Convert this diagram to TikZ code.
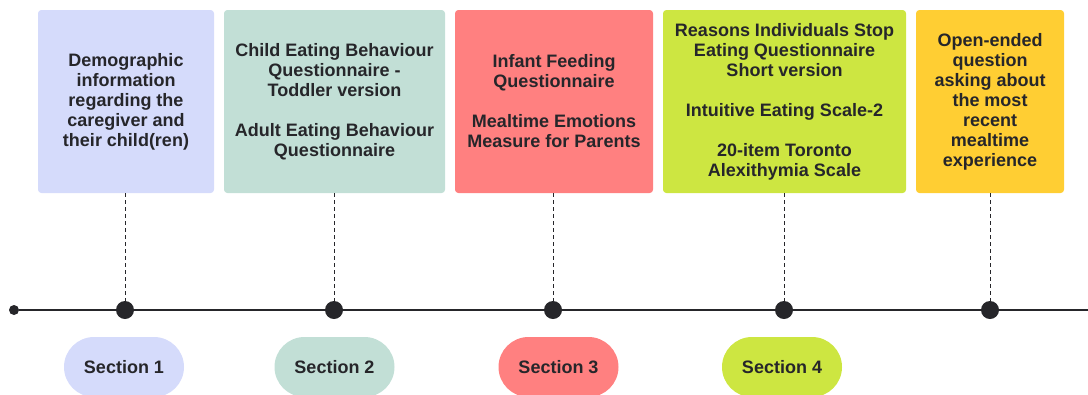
\documentclass[tikz,border=0pt]{standalone}
\usepackage{fontspec}
\setmainfont{Liberation Sans}
\usetikzlibrary{shapes.misc}

\definecolor{lavender}{RGB}{213,219,251}
\definecolor{sage}{RGB}{194,223,214}
\definecolor{salmon}{RGB}{255,128,128}
\definecolor{lime}{RGB}{205,230,65}
\definecolor{amber}{RGB}{255,206,51}
\definecolor{ink}{RGB}{38,38,42}

\begin{document}
\begin{tikzpicture}[x=0.75pt,y=0.75pt,yscale=-1,xscale=1,
    card/.style={rounded corners=2.5pt, minimum height=137.25pt, inner sep=0pt,
      align=center, text=ink, font=\fontsize{13.5}{15}\selectfont\bfseries,
      execute at begin node={\vspace*{7.5pt}}},
    pill/.style={rounded rectangle, minimum width=90pt, minimum height=45pt,
      inner sep=0pt, text=ink, font=\fontsize{13.5}{15}\selectfont\bfseries},
    dot/.style={circle, fill=ink, inner sep=0pt, minimum size=13.5pt},
    guide/.style={color=ink, line width=0.6pt, dash pattern=on 3pt off 2.25pt}]
    \useasboundingbox (0,0) rectangle (1088,394);

    %Shape: Rectangle (cards)
    \node [card, fill=lavender, minimum width=132pt] (card1) at (126,101.5)
      {Demographic\\information\\regarding the\\caregiver and\\their child(ren)};
    \node [card, fill=sage, minimum width=165.75pt] (card2) at (334.5,101.5)
      {Child Eating Behaviour\\Questionnaire -\\Toddler version\\[15pt]Adult Eating Behaviour\\Questionnaire};
    \node [card, fill=salmon, minimum width=148.5pt] (card3) at (554,101.5)
      {Infant Feeding\\Questionnaire\\[15pt]Mealtime Emotions\\Measure for Parents};
    \node [card, fill=lime, minimum width=182.25pt] (card4) at (784.5,101.5)
      {Reasons Individuals Stop\\Eating Questionnaire\\Short version\\[15pt]Intuitive Eating Scale-2\\[15pt]20-item Toronto\\Alexithymia Scale};
    \node [card, fill=amber, minimum width=111pt] (card5) at (990,101.5)
      {Open-ended\\question\\asking about\\the most\\recent\\mealtime\\experience};

    %Straight Lines (timeline)
    \node [dot, minimum size=7.5pt] (start) at (14,310) {};
    \coordinate (stop) at (1088,310);
    \draw [color=ink, line width=1.5pt] (start) -- (stop);

    %Shape: Circle (marks) and dashed guides
    \foreach \i/\x in {1/125,2/334,3/553,4/784,5/990}{
      \node [dot] (mark\i) at (\x,310) {};
      \draw [guide] (card\i.south -| mark\i) -- (mark\i);
    }

    % Text Node (sections)
    \node [pill, fill=lavender] (sec1) at (124,367) {Section 1};
    \node [pill, fill=sage] (sec2) at (334.5,367) {Section 2};
    \node [pill, fill=salmon] (sec3) at (558.5,367) {Section 3};
    \node [pill, fill=lime] (sec4) at (782,367) {Section 4};

\end{tikzpicture}
\end{document}
